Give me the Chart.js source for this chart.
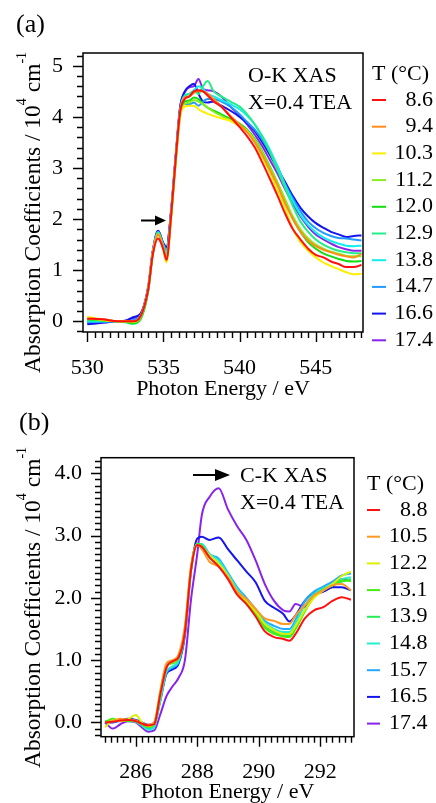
<!DOCTYPE html>
<html lang="en">
<head>
<meta charset="UTF-8">
<title>O-K and C-K XAS</title>
<script src="https://cdn.jsdelivr.net/npm/chart.js"></script>
<style>
  body { margin: 0; background: #fff; }
  canvas { position: absolute; left: 0; }
</style>
</head>
<body>
<canvas id="okChart" width="436" height="400" style="top:0"></canvas>
<canvas id="ckChart" width="436" height="403" style="top:400px"></canvas>
<script>
// ---- (a) O-K edge ----
const energyO = [530, 531, 532, 532.5, 533, 533.5, 534, 534.3, 534.65, 535, 535.2, 535.5, 535.8, 536.1, 536.4,
  536.7, 537, 537.3, 537.6, 537.9, 538.3, 538.8, 539.4, 540, 540.5, 541, 541.5, 542, 542.5, 543, 543.5,
  544, 544.5, 545, 545.5, 546, 546.5, 547, 547.5, 548];
const tempsO = ['8.6', '9.4', '10.3', '11.2', '12.0', '12.9', '13.8', '14.7', '16.6', '17.4'];

const ok86 = [0.05, 0.04, 0.0, 0.0, 0.0, 0.1, 0.62, 1.3, 1.62, 1.4, 1.2, 2.05, 3.15, 4.1, 4.35,
  4.4, 4.5, 4.52, 4.5, 4.42, 4.3, 4.2, 4.0, 3.8, 3.62, 3.4, 3.1, 2.78, 2.45, 2.1, 1.8, 1.6, 1.42, 1.3, 1.25, 1.17, 1.12, 1.06, 1.06, 1.1];
const ok94 = [0.05, 0.04, 0.0, 0.0, 0.0, 0.1, 0.64, 1.33, 1.7, 1.42, 1.22, 2.08, 3.18, 4.12, 4.38,
  4.4, 4.47, 4.5, 4.5, 4.45, 4.35, 4.2, 4.02, 3.85, 3.7, 3.5, 3.25, 2.95, 2.65, 2.3, 2.0, 1.75, 1.58, 1.47, 1.4, 1.35, 1.3, 1.27, 1.25, 1.32];
const ok103 = [0.09, 0.03, 0.0, 0.0, 0.0, 0.1, 0.64, 1.33, 1.7, 1.38, 1.15, 2.0, 3.1, 4.0, 4.2,
  4.22, 4.22, 4.15, 4.1, 4.06, 4.02, 3.97, 3.92, 3.82, 3.72, 3.5, 3.2, 2.9, 2.55, 2.2, 1.8, 1.55, 1.38, 1.25, 1.15, 1.08, 1.02, 0.96, 0.92, 0.93];
const ok112 = [0.06, 0.02, 0.0, 0.0, -0.02, 0.08, 0.63, 1.33, 1.72, 1.42, 1.24, 2.05, 3.12, 4.05, 4.25,
  4.28, 4.33, 4.3, 4.25, 4.18, 4.1, 4.02, 3.93, 3.85, 3.72, 3.55, 3.3, 3.0, 2.7, 2.38, 2.05, 1.8, 1.62, 1.5, 1.42, 1.36, 1.32, 1.28, 1.27, 1.27];
const ok120 = [0.04, 0.02, 0.0, -0.01, -0.04, 0.05, 0.6, 1.32, 1.72, 1.42, 1.22, 2.02, 3.1, 4.05, 4.3,
  4.32, 4.38, 4.35, 4.25, 4.18, 4.12, 4.05, 3.96, 3.87, 3.75, 3.57, 3.32, 3.02, 2.7, 2.35, 2.0, 1.75, 1.55, 1.42, 1.33, 1.27, 1.22, 1.18, 1.17, 1.18];
const ok129 = [0.02, 0.01, 0.0, -0.02, -0.05, 0.04, 0.58, 1.3, 1.72, 1.45, 1.28, 2.05, 3.12, 4.1, 4.4,
  4.45, 4.5, 4.45, 4.6, 4.7, 4.5, 4.4, 4.3, 4.2, 4.05, 3.85, 3.6, 3.3, 2.95, 2.6, 2.25, 1.95, 1.75, 1.6, 1.5, 1.43, 1.38, 1.35, 1.33, 1.33];
const ok138 = [0.0, 0.0, 0.0, -0.01, -0.02, 0.07, 0.62, 1.33, 1.74, 1.47, 1.33, 2.1, 3.18, 4.15, 4.42,
  4.45, 4.52, 4.6, 4.55, 4.45, 4.4, 4.33, 4.25, 4.15, 4.02, 3.85, 3.62, 3.35, 3.02, 2.65, 2.35, 2.08, 1.88, 1.74, 1.64, 1.57, 1.52, 1.48, 1.47, 1.48];
const ok147 = [-0.02, -0.01, 0.0, 0.0, 0.02, 0.12, 0.65, 1.35, 1.75, 1.5, 1.4, 2.12, 3.2, 4.1, 4.25,
  4.25, 4.28, 4.22, 4.3, 4.35, 4.35, 4.3, 4.2, 4.05, 3.9, 3.75, 3.55, 3.3, 3.02, 2.68, 2.4, 2.15, 1.95, 1.82, 1.73, 1.67, 1.63, 1.62, 1.6, 1.58];
const ok166 = [-0.06, -0.03, 0.0, 0.01, 0.08, 0.15, 0.67, 1.37, 1.77, 1.52, 1.45, 2.15, 3.22, 4.2, 4.5,
  4.6, 4.65, 4.45, 4.3, 4.28, 4.3, 4.22, 4.12, 4.0, 3.88, 3.72, 3.5, 3.25, 2.98, 2.72, 2.45, 2.22, 2.05, 1.92, 1.83, 1.75, 1.7, 1.65, 1.67, 1.68];
const ok174 = [-0.03, -0.02, 0.0, 0.01, 0.06, 0.14, 0.67, 1.37, 1.77, 1.52, 1.45, 2.15, 3.22, 4.2, 4.48,
  4.58, 4.6, 4.74, 4.55, 4.52, 4.5, 4.4, 4.2, 4.02, 3.85, 3.65, 3.42, 3.15, 2.88, 2.58, 2.3, 2.05, 1.85, 1.7, 1.6, 1.52, 1.45, 1.41, 1.38, 1.38];
const seriesO = [ok86, ok94, ok103, ok112, ok120, ok129, ok138, ok147, ok166, ok174];

// ---- (b) C-K edge ----
const energyC = [285, 285.25, 285.5, 285.75, 286, 286.2, 286.4, 286.6, 286.8, 287, 287.2, 287.4, 287.6, 287.8,
  288, 288.15, 288.4, 288.7, 289, 289.3, 289.6, 289.9, 290.2, 290.5, 290.8, 291, 291.2, 291.5, 291.8,
  292.1, 292.4, 292.7, 293];
const tempsC = ['8.8', '10.5', '12.2', '13.1', '13.9', '14.8', '15.7', '16.5', '17.4'];

const ck88 = [0.0, 0.01, 0.03, 0.04, 0.02, -0.02, -0.05, -0.03, 0.45, 0.88, 0.98, 1.05, 1.45, 2.45,
  2.85, 2.82, 2.65, 2.5, 2.3, 2.05, 1.9, 1.7, 1.46, 1.37, 1.34, 1.31, 1.42, 1.67, 1.8, 1.85, 1.95, 2.01, 1.97];
const ck105 = [0.0, 0.02, 0.06, 0.04, 0.03, -0.02, -0.04, 0.0, 0.5, 0.95, 1.0, 1.1, 1.55, 2.5,
  2.85, 2.78, 2.58, 2.5, 2.33, 2.1, 1.98, 1.82, 1.67, 1.63, 1.58, 1.58, 1.72, 1.88, 2.04, 2.12, 2.2, 2.22, 2.12];
const ck122 = [-0.08, 0.03, 0.02, 0.05, 0.12, 0.0, -0.06, -0.02, 0.45, 0.9, 0.97, 1.05, 1.5, 2.45,
  2.85, 2.82, 2.68, 2.55, 2.35, 2.1, 1.95, 1.78, 1.58, 1.48, 1.42, 1.42, 1.55, 1.8, 2.0, 2.12, 2.22, 2.35, 2.42];
const ck131 = [0.0, 0.06, 0.02, 0.03, 0.02, -0.03, -0.07, -0.02, 0.5, 0.92, 0.96, 1.05, 1.5, 2.5,
  2.87, 2.83, 2.65, 2.52, 2.32, 2.08, 1.92, 1.75, 1.52, 1.42, 1.38, 1.37, 1.5, 1.78, 2.02, 2.12, 2.2, 2.28, 2.27];
const ck139 = [0.02, 0.03, 0.04, 0.02, 0.02, -0.03, -0.08, -0.04, 0.45, 0.9, 0.95, 1.03, 1.48, 2.48,
  2.87, 2.84, 2.67, 2.55, 2.34, 2.1, 1.93, 1.76, 1.55, 1.45, 1.4, 1.4, 1.52, 1.8, 2.02, 2.14, 2.2, 2.26, 2.3];
const ck148 = [0.01, 0.02, 0.03, 0.03, 0.01, -0.05, -0.12, -0.08, 0.35, 0.82, 0.9, 1.0, 1.45, 2.45,
  2.85, 2.86, 2.7, 2.6, 2.38, 2.14, 1.97, 1.8, 1.6, 1.5, 1.45, 1.45, 1.6, 1.88, 2.06, 2.15, 2.22, 2.3, 2.33];
const ck157 = [0.0, 0.01, 0.02, 0.04, 0.02, -0.04, -0.1, -0.05, 0.38, 0.8, 0.88, 0.98, 1.42, 2.45,
  2.86, 2.86, 2.7, 2.63, 2.4, 2.17, 2.0, 1.82, 1.63, 1.55, 1.5, 1.5, 1.65, 1.95, 2.1, 2.18, 2.26, 2.36, 2.39];
const ck165 = [0.0, 0.0, 0.03, 0.06, 0.04, 0.0, -0.04, -0.01, 0.35, 0.78, 0.85, 0.95, 1.4, 2.45,
  2.95, 2.98, 2.93, 2.97, 2.78, 2.6, 2.42, 2.25, 1.95, 1.84, 1.74, 1.62, 1.72, 1.95, 2.08, 2.1, 2.17, 2.17, 2.12];
const ck174 = [0.0, -0.1, -0.03, 0.02, 0.0, -0.08, -0.15, -0.13, 0.13, 0.42, 0.58, 0.72, 1.0, 1.98,
  2.7, 3.33, 3.62, 3.76, 3.42, 3.15, 2.93, 2.6, 2.22, 1.95, 1.8, 1.78, 1.9, 1.85, 2.03, 2.1, 2.18, 2.3, 2.28];
const seriesC = [ck88, ck105, ck122, ck131, ck139, ck148, ck157, ck165, ck174];

const colorsO = ['#ff1010', '#ff8c1a', '#ffee00', '#88ee22', '#11dd11', '#22ee88', '#11eeee', '#2299ff', '#1414ee', '#8a22ee'];
const colorsC = ['#ff1010', '#ff9922', '#ddee00', '#44ee11', '#22ee55', '#22eecc', '#22aaff', '#1414ee', '#8a22ee'];

const SERIF = "'Liberation Serif', 'Times New Roman', serif";

function isMult(v, step) {
  const k = v / step;
  return Math.abs(k - Math.round(k)) < 1e-6;
}

// tick positions from start to end
function tickList(start, end, step) {
  const out = [];
  for (let k = 0; ; k++) {
    const v = +(start + k * step).toFixed(4);
    if (v > end + 1e-9) break;
    out.push({ value: v });
  }
  return out;
}

// frame box + major/minor tick marks, plus panel texts
function panelPlugin(cfg) {
  return {
    id: 'panel',
    afterDraw(chart) {
      const { ctx, chartArea: a } = chart;
      const sx = chart.scales.x, sy = chart.scales.y;
      ctx.save();
      ctx.strokeStyle = '#000';
      ctx.lineWidth = 1.5;
      ctx.strokeRect(a.left, a.top, a.right - a.left, a.bottom - a.top);
      ctx.lineWidth = 1.4;
      ctx.beginPath();
      sx.ticks.forEach(t => {
        const len = isMult(t.value, cfg.xLabel) ? 10 : 6;
        const px = Math.round(sx.getPixelForValue(t.value)) + 0.5;
        ctx.moveTo(px, a.bottom);
        ctx.lineTo(px, a.bottom + len);
      });
      sy.ticks.forEach(t => {
        const len = isMult(t.value, cfg.yMajor) ? 10 : 6;
        const py = Math.round(sy.getPixelForValue(t.value)) + 0.5;
        ctx.moveTo(a.left, py);
        ctx.lineTo(a.left - len, py);
      });
      ctx.stroke();

      const o = cfg.text;
      ctx.fillStyle = '#000';
      ctx.textAlign = 'left';
      ctx.textBaseline = 'alphabetic';
      ctx.font = '26px ' + SERIF;
      ctx.fillText(o.tag, o.tagX, o.tagY);

      ctx.font = '22px ' + SERIF;
      o.notes.forEach(n => ctx.fillText(n.text, n.x, n.y));

      // arrow
      const ar = o.arrow;
      ctx.lineWidth = 2;
      ctx.beginPath();
      ctx.moveTo(ar.x0, ar.y);
      ctx.lineTo(ar.x1 - ar.head, ar.y);
      ctx.stroke();
      ctx.beginPath();
      ctx.moveTo(ar.x1, ar.y);
      ctx.lineTo(ar.x1 - ar.head, ar.y - ar.half);
      ctx.lineTo(ar.x1 - ar.head, ar.y + ar.half);
      ctx.closePath();
      ctx.fill();

      // legend
      const lg = o.legend;
      ctx.fillText('T (°C)', lg.x, lg.titleY);
      chart.data.datasets.forEach((d, i) => {
        const y = lg.y + i * lg.step;
        ctx.strokeStyle = d.borderColor;
        ctx.lineWidth = 2;
        ctx.beginPath();
        ctx.moveTo(lg.x, y);
        ctx.lineTo(lg.x + lg.len, y);
        ctx.stroke();
        ctx.textAlign = 'right';
        ctx.fillText(d.label, lg.right, y + 5.5);
        ctx.textAlign = 'left';
      });

      // rotated y title with superscripts
      const yt = o.yTitle;
      ctx.translate(yt.x, yt.y);
      ctx.rotate(-Math.PI / 2);
      let pos = 0;
      [['Absorption Coefficients / 10', false], ['4', true], [' cm', false], ['-1', true]].forEach(([t, sup]) => {
        ctx.font = (sup ? '14px ' : yt.size + 'px ') + SERIF;
        ctx.fillText(t, pos, sup ? -14 : 0);
        pos += ctx.measureText(t).width;
      });
      ctx.restore();
    }
  };
}

function makeDatasets(xs, series, temps, colors) {
  return series.map((vals, i) => ({
    label: temps[i],
    data: vals.map((v, j) => ({ x: xs[j], y: v })),
    borderColor: colors[i],
    borderWidth: 2,
    pointRadius: 0,
    cubicInterpolationMode: 'monotone',
    fill: false
  }));
}

function makeChart(id, cfg) {
  const tickFont = { family: SERIF, size: 22 };
  return new Chart(document.getElementById(id), {
    type: 'line',
    data: { datasets: makeDatasets(cfg.xs, cfg.series, cfg.temps, cfg.colors) },
    options: {
      responsive: false,
      animation: false,
      events: [],
      layout: { padding: { top: cfg.padTop, right: cfg.padRight, left: 0, bottom: 0 } },
      scales: {
        x: {
          type: 'linear',
          min: cfg.xMin, max: cfg.xMax,
          afterBuildTicks: s => { s.ticks = tickList(cfg.xTick0, cfg.xTick1, cfg.xMinor); },
          afterFit: s => { s.height = cfg.xHeight; },
          grid: { drawOnChartArea: false, tickLength: 10, tickColor: 'rgba(0,0,0,0)' },
          border: { display: false },
          ticks: {
            autoSkip: false, maxRotation: 0, minRotation: 0,
            padding: cfg.xPad, color: '#000', font: tickFont,
            callback: v => isMult(v, cfg.xLabel) ? String(Math.round(v)) : ''
          },
          title: {
            display: true, text: 'Photon Energy / eV', color: '#000',
            font: { family: SERIF, size: 22, lineHeight: 1.0 }, padding: 0
          }
        },
        y: {
          min: cfg.yMin, max: cfg.yMax,
          afterBuildTicks: s => { s.ticks = tickList(cfg.yTick0, cfg.yTick1, cfg.yMinor); },
          afterFit: s => { s.width = cfg.yWidth; },
          grid: { drawOnChartArea: false, tickLength: 10, tickColor: 'rgba(0,0,0,0)' },
          border: { display: false },
          ticks: {
            autoSkip: false, padding: cfg.yPad, color: '#000', font: tickFont,
            callback: v => isMult(v, cfg.yMajor) ? cfg.yFmt(v) : ''
          }
        }
      },
      plugins: {
        legend: { display: false },
        tooltip: { enabled: false }
      }
    },
    plugins: [panelPlugin(cfg)]
  });
}

makeChart('okChart', {
  xs: energyO, series: seriesO, temps: tempsO, colors: colorsO,
  xMin: 529.72, xMax: 548.1, xTick0: 530, xTick1: 548, xMinor: 0.5, xLabel: 5, xHeight: 68, xPad: 13,
  yMin: -0.21, yMax: 5.25, yTick0: -0.2, yTick1: 5.2, yMinor: 0.2, yMajor: 1, yWidth: 83, yPad: 10,
  yFmt: v => String(Math.round(v)),
  padTop: 53, padRight: 73,
  text: {
    tag: '(a)', tagX: 16, tagY: 32,
    notes: [{ text: 'O-K XAS', x: 248, y: 82 }, { text: 'X=0.4 TEA', x: 248, y: 108.5 }],
    arrow: { x0: 141, x1: 166, y: 220.5, head: 11, half: 5 },
    legend: { x: 372, titleY: 79.5, y: 100, step: 26.7, len: 14, right: 433 },
    yTitle: { x: 40, y: 373, size: 23.5 }
  }
});

makeChart('ckChart', {
  xs: energyC, series: seriesC, temps: tempsC, colors: colorsC,
  xMin: 284.87, xMax: 293.1, xTick0: 285, xTick1: 293, xMinor: 0.2, xLabel: 2, xHeight: 66.3, xPad: 12,
  yMin: -0.23, yMax: 4.25, yTick0: -0.2, yTick1: 4.2, yMinor: 0.1, yMajor: 1, yWidth: 101, yPad: 9,
  yFmt: v => v.toFixed(1),
  padTop: 57.7, padRight: 82,
  text: {
    tag: '(b)', tagX: 19, tagY: 30,
    notes: [{ text: 'C-K XAS', x: 240, y: 82 }, { text: 'X=0.4 TEA', x: 240, y: 108.5 }],
    arrow: { x0: 193, x1: 230, y: 75, head: 15, half: 6 },
    legend: { x: 367, titleY: 89.5, y: 110, step: 26.7, len: 13, right: 427.5 },
    yTitle: { x: 40, y: 368, size: 23.5 }
  }
});
</script>
</body>
</html>
